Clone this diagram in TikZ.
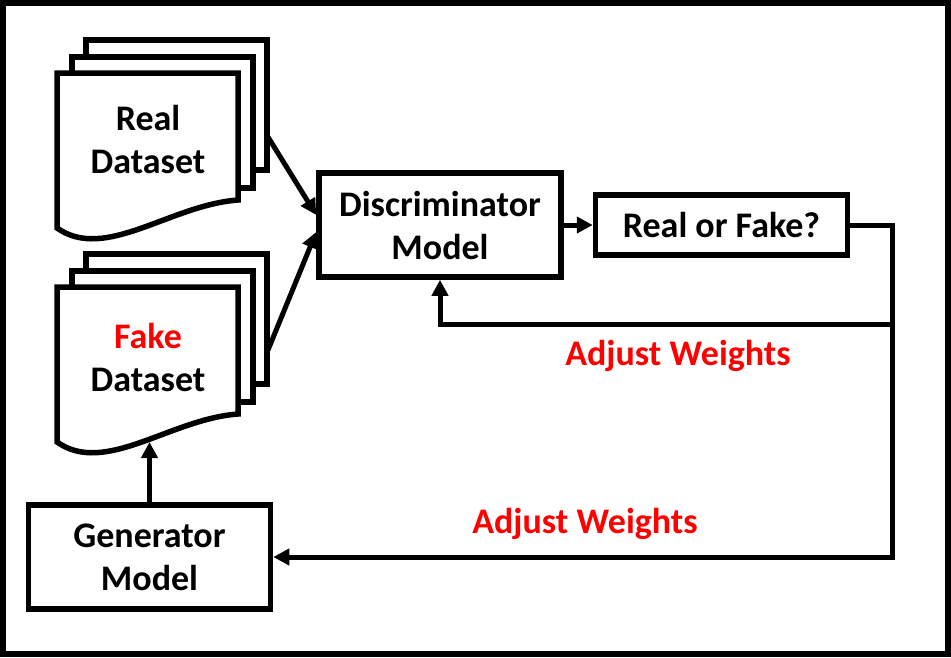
\documentclass[tikz,border=0pt]{standalone}
\usepackage{fontspec}
\setmainfont{Carlito}
\usetikzlibrary{arrows.meta}
\begin{document}
\begin{tikzpicture}[x=1pt,y=-1pt,
  every node/.style={font=\fontsize{36}{43}\selectfont\bfseries},
  box/.style={draw,line width=5.5pt,minimum width=242pt,minimum height=104pt,inner sep=0pt,align=center},
  page/.style={draw,line width=5.5pt,fill=white,line join=miter},
  conn/.style={line width=5pt,-{Triangle[length=16pt,width=16pt]}},
  lbl/.style={text=red},
  doctext/.style={align=center,inner sep=0pt}
]
\useasboundingbox (0,0) rectangle (951,657);
\draw[line width=6pt] (3,3) rectangle (948,654);

% Real dataset stack
\draw[page] (86,40) rectangle (267,170);
\draw[page] (72,57) rectangle (253,188);
\draw[page] (57,73) -- (238,73) -- (238,200) .. controls (170,205) and (105,262) .. (57,228) -- cycle;
\node[doctext] (real) at (148,139.5) {Real\\Dataset};

% Fake dataset stack
\begin{scope}[shift={(0,214)}]
\draw[page] (86,40) rectangle (267,170);
\draw[page] (72,57) rectangle (253,188);
\draw[page] (57,73) -- (238,73) -- (238,200) .. controls (170,205) and (105,262) .. (57,228) -- cycle;
\end{scope}
\node[doctext] (fake) at (148,357) {\textcolor{red}{Fake}\\Dataset};

\coordinate (realout) at (268,137);
\coordinate (fakeout) at (268,350);
\coordinate (fakebot) at (149.5,442);

% Boxes
\node[box] (disc) at (440,225) {Discriminator\\Model};
\node[box,minimum width=252pt,minimum height=60pt] (rof) at (721.5,225) {Real or Fake?};
\node[box] (gen) at (149.5,557) {Generator\\Model};

% Connectors
\draw[conn] (realout) -- ([yshift=10pt]disc.west);
\draw[conn] (fakeout) -- ([yshift=-7pt]disc.west);
\draw[conn] (disc.east) -- (rof.west);
\draw[conn] (gen.north) -- (fakebot);

\coordinate (corner) at (892.5,557);
\coordinate (branch) at (892.5,324.5);
\draw[conn] (rof.east) -| (corner) -- (gen.east);
\draw[conn] (branch) -| (disc.south);

% Labels
\node[lbl] (aw1) at (678,356) {Adjust Weights};
\node[lbl] (aw2) at (585,524) {Adjust Weights};
\end{tikzpicture}
\end{document}
